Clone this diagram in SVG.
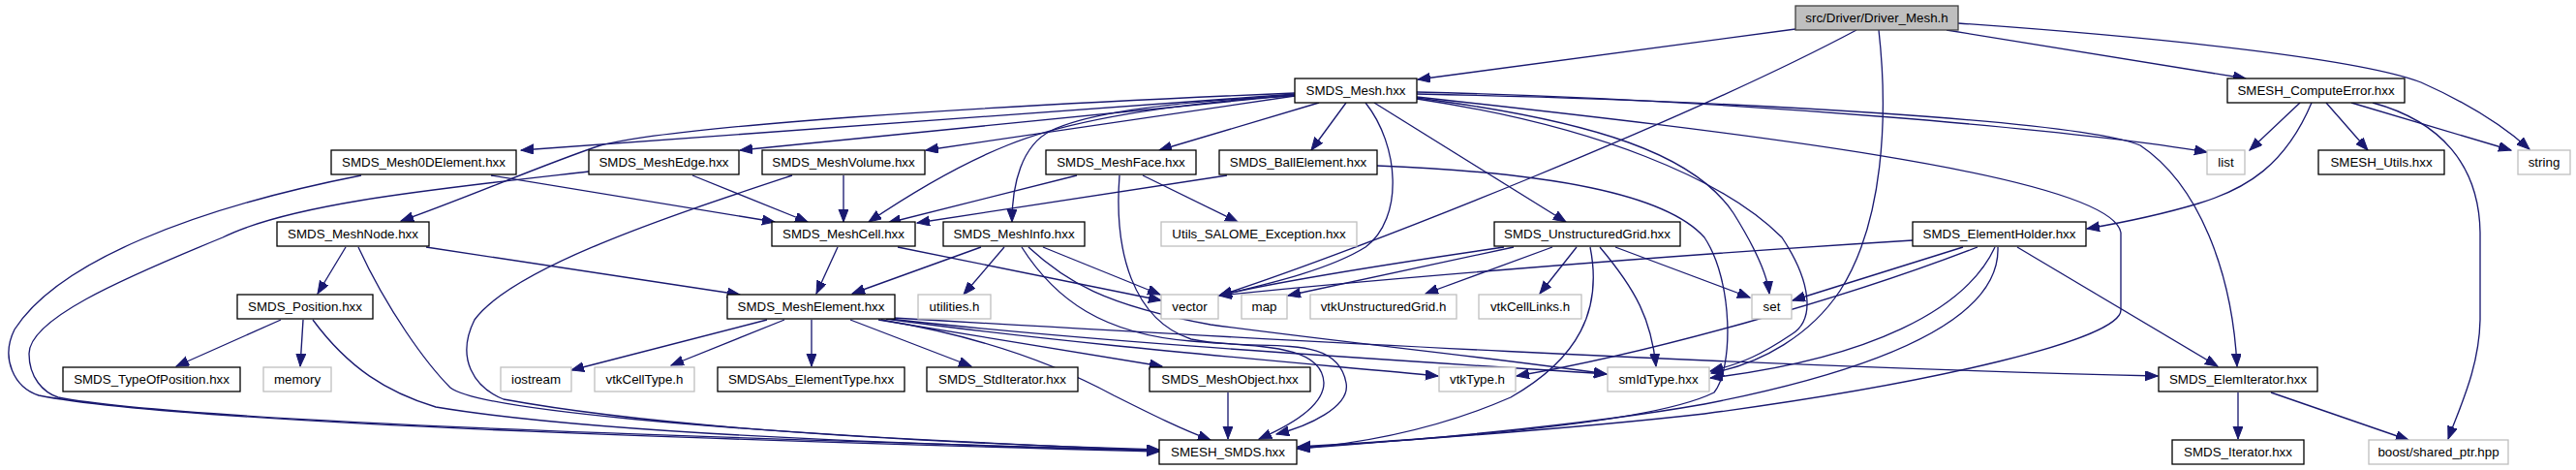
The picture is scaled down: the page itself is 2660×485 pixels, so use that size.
<svg xmlns="http://www.w3.org/2000/svg" width="2660" height="485" viewBox="0 0 2660 485">
<style>
.n rect{fill:#fff;stroke:#000;stroke-width:1.3}
.g rect{fill:#fff;stroke:#bfbfbf;stroke-width:1.3}
.r rect{fill:#bfbfbf;stroke:#404040;stroke-width:1.3}
text{font-family:"Liberation Sans",Arial,sans-serif;font-size:13.33px;fill:#000;text-anchor:middle}
#edges path{fill:none;stroke:#191970;stroke-width:1.33;marker-end:url(#a)}
</style>
<defs>
<marker id="a" markerUnits="userSpaceOnUse" markerWidth="14" markerHeight="11" refX="13" refY="5" orient="auto" viewBox="0 0 14 11">
<path d="M0,0 L13,5 L0,10 Z" fill="#191970" stroke="#191970" stroke-width="1"/>
</marker>
</defs>
<rect width="2660" height="485" fill="#fff"/>
<g id="edges">
<path d="M1854,30 L1464,82"/>
<path d="M2010,31 L2319,81"/>
<path d="M2022,24 C2250,40 2440,62 2500,85 C2545,105 2585,130 2612,154"/>
<path d="M1917,31 C1750,120 1400,260 1259,305"/>
<path d="M1940,31 C1950,120 1945,230 1900,300 C1870,345 1820,375 1767,385"/>
<path d="M1337,96 C1000,110 700,130 620,150 C560,170 480,205 414,228"/>
<path d="M1337,97 L538,155"/>
<path d="M1337,98 L764,155"/>
<path d="M1337,99 L956,155"/>
<path d="M1337,98 C1200,108 1100,125 1040,150 C990,170 940,200 897,229"/>
<path d="M1337,99 C1200,105 1120,118 1085,135 C1055,150 1045,190 1045,229"/>
<path d="M1362,106 L1197,155"/>
<path d="M1390,106 L1354,155"/>
<path d="M1410,106 C1445,150 1450,225 1410,255 C1370,280 1300,295 1259,305"/>
<path d="M1419,106 L1617,229"/>
<path d="M1463,95 C1800,103 2150,135 2279,157"/>
<path d="M1463,97 C1800,104 2150,125 2210,150 C2270,190 2305,280 2310,378"/>
<path d="M1463,100 C1780,135 2180,180 2190,240 L2190,320 C2190,350 2000,395 1760,427 C1600,445 1400,458 1340,462"/>
<path d="M1463,101 C1650,125 1750,160 1790,220 C1815,260 1825,285 1827,303"/>
<path d="M1463,102 C1650,130 1780,185 1840,245 C1870,290 1875,330 1850,345 C1820,365 1800,375 1766,383"/>
<path d="M1422,171 C1600,178 1720,200 1760,245 C1790,290 1790,380 1770,405 C1700,440 1450,455 1340,461"/>
<path d="M2375,106 L2323,155"/>
<path d="M2387,106 C2360,170 2320,195 2270,210 C2230,222 2190,230 2155,236"/>
<path d="M2402,106 L2445,155"/>
<path d="M2428,106 L2593,155"/>
<path d="M2450,106 C2520,125 2560,170 2561,240 L2561,330 C2560,380 2540,420 2528,453"/>
<path d="M507,181 L800,229"/>
<path d="M373,181 C200,215 60,270 15,340 C0,370 15,400 40,408 C200,440 900,458 1197,466"/>
<path d="M715,181 L834,229"/>
<path d="M608,177 C450,195 300,210 230,245 C120,290 30,330 30,365 C30,390 45,405 60,410 C200,438 900,456 1197,465"/>
<path d="M871,181 L871,229"/>
<path d="M818,181 C700,220 530,275 490,330 C470,370 490,400 520,412 C700,445 1000,458 1197,464"/>
<path d="M1112,181 L917,230"/>
<path d="M1180,181 L1278,229"/>
<path d="M1156,181 C1150,260 1170,330 1230,350 C1300,365 1380,340 1390,395 C1395,420 1350,440 1318,448"/>
<path d="M1267,181 L947,230"/>
<path d="M357,255 L328,303"/>
<path d="M440,255 L764,304"/>
<path d="M370,255 C400,320 440,375 465,400 C490,420 700,445 1197,465"/>
<path d="M290,330 L182,378"/>
<path d="M313,330 L310,378"/>
<path d="M323,330 C360,380 400,405 450,420 C600,445 900,458 1197,465"/>
<path d="M865,255 L843,303"/>
<path d="M927,255 L1199,310"/>
<path d="M1013,255 L880,303"/>
<path d="M1037,255 L995,304"/>
<path d="M1077,255 L1198,304"/>
<path d="M1055,255 C1090,310 1140,345 1230,352 C1300,358 1365,355 1367,395 C1367,420 1330,440 1300,453"/>
<path d="M1062,255 C1100,290 1140,315 1250,335 C1400,355 1550,370 1659,386"/>
<path d="M792,330 L590,382"/>
<path d="M810,330 L693,377"/>
<path d="M838,330 L838,378"/>
<path d="M878,330 L1003,378"/>
<path d="M907,330 L1200,378"/>
<path d="M910,330 C1000,345 1080,370 1150,408 C1190,428 1220,443 1250,454"/>
<path d="M915,329 C1100,355 1350,375 1485,388"/>
<path d="M918,329 C1150,355 1450,372 1659,386"/>
<path d="M922,328 C1300,350 1800,378 2228,388"/>
<path d="M1268,405 L1268,453"/>
<path d="M1553,255 C1450,270 1320,290 1259,305"/>
<path d="M1563,255 L1330,305"/>
<path d="M1603,255 L1472,303"/>
<path d="M1628,255 L1590,303"/>
<path d="M1642,255 C1655,320 1630,370 1560,410 C1480,445 1400,458 1340,463"/>
<path d="M1652,255 C1690,300 1705,330 1710,378"/>
<path d="M1668,255 L1807,307"/>
<path d="M1975,248 C1700,265 1400,290 1259,305"/>
<path d="M2027,255 L1851,310"/>
<path d="M2042,255 C1900,310 1700,365 1566,388"/>
<path d="M2060,255 C2030,320 1930,370 1766,390"/>
<path d="M2063,255 C2065,310 2000,370 1760,417 C1600,445 1400,458 1340,463"/>
<path d="M2083,255 L2290,378"/>
<path d="M2311,405 L2311,453"/>
<path d="M2345,405 L2487,454"/>
</g>
<g id="driver_mesh_h" class="r"><rect x="1854" y="6" width="168" height="25"/><text x="1938" y="23">src/Driver/Driver_Mesh.h</text></g>
<g id="smds_mesh" class="n"><rect x="1337" y="81" width="126" height="25"/><text x="1400" y="98">SMDS_Mesh.hxx</text></g>
<g id="smesh_computeerror" class="n"><rect x="2300" y="81" width="183" height="25"/><text x="2391.5" y="98">SMESH_ComputeError.hxx</text></g>
<g id="smds_mesh0delement" class="n"><rect x="342" y="155" width="191" height="25"/><text x="437.5" y="172">SMDS_Mesh0DElement.hxx</text></g>
<g id="smds_meshedge" class="n"><rect x="608" y="155" width="155" height="25"/><text x="685.5" y="172">SMDS_MeshEdge.hxx</text></g>
<g id="smds_meshvolume" class="n"><rect x="787" y="155" width="168" height="25"/><text x="871" y="172">SMDS_MeshVolume.hxx</text></g>
<g id="smds_meshface" class="n"><rect x="1080" y="155" width="155" height="25"/><text x="1157.5" y="172">SMDS_MeshFace.hxx</text></g>
<g id="smds_ballelement" class="n"><rect x="1259" y="155" width="163" height="25"/><text x="1340.5" y="172">SMDS_BallElement.hxx</text></g>
<g id="list" class="g"><rect x="2279" y="155" width="39" height="25"/><text x="2298.5" y="172">list</text></g>
<g id="smesh_utils" class="n"><rect x="2394" y="155" width="130" height="25"/><text x="2459" y="172">SMESH_Utils.hxx</text></g>
<g id="string" class="g"><rect x="2600" y="155" width="54" height="25"/><text x="2627" y="172">string</text></g>
<g id="smds_meshnode" class="n"><rect x="286" y="229" width="157" height="25"/><text x="364.5" y="246">SMDS_MeshNode.hxx</text></g>
<g id="smds_meshcell" class="n"><rect x="797" y="229" width="148" height="25"/><text x="871" y="246">SMDS_MeshCell.hxx</text></g>
<g id="smds_meshinfo" class="n"><rect x="974" y="229" width="146" height="25"/><text x="1047" y="246">SMDS_MeshInfo.hxx</text></g>
<g id="utils_salome_exception" class="g"><rect x="1199" y="229" width="202" height="25"/><text x="1300" y="246">Utils_SALOME_Exception.hxx</text></g>
<g id="smds_unstructuredgrid" class="n"><rect x="1543" y="229" width="192" height="25"/><text x="1639" y="246">SMDS_UnstructuredGrid.hxx</text></g>
<g id="smds_elementholder" class="n"><rect x="1975" y="229" width="179" height="25"/><text x="2064.5" y="246">SMDS_ElementHolder.hxx</text></g>
<g id="smds_position" class="n"><rect x="245" y="304" width="140" height="25"/><text x="315" y="321">SMDS_Position.hxx</text></g>
<g id="smds_meshelement" class="n"><rect x="751" y="304" width="173" height="25"/><text x="837.5" y="321">SMDS_MeshElement.hxx</text></g>
<g id="utilities_h" class="g"><rect x="948" y="304" width="75" height="25"/><text x="985.5" y="321">utilities.h</text></g>
<g id="vector" class="g"><rect x="1199" y="304" width="59" height="25"/><text x="1228.5" y="321">vector</text></g>
<g id="map" class="g"><rect x="1282" y="304" width="47" height="25"/><text x="1305.5" y="321">map</text></g>
<g id="vtkunstructuredgrid_h" class="g"><rect x="1353" y="304" width="151" height="25"/><text x="1428.5" y="321">vtkUnstructuredGrid.h</text></g>
<g id="vtkcelllinks_h" class="g"><rect x="1527" y="304" width="106" height="25"/><text x="1580" y="321">vtkCellLinks.h</text></g>
<g id="set" class="g"><rect x="1809" y="304" width="41" height="25"/><text x="1829.5" y="321">set</text></g>
<g id="smds_typeofposition" class="n"><rect x="65" y="379" width="183" height="25"/><text x="156.5" y="396">SMDS_TypeOfPosition.hxx</text></g>
<g id="memory" class="g"><rect x="272" y="379" width="70" height="25"/><text x="307" y="396">memory</text></g>
<g id="iostream" class="g"><rect x="517" y="379" width="73" height="25"/><text x="553.5" y="396">iostream</text></g>
<g id="vtkcelltype_h" class="g"><rect x="614" y="379" width="103" height="25"/><text x="665.5" y="396">vtkCellType.h</text></g>
<g id="smdsabs_elementtype" class="n"><rect x="741" y="379" width="193" height="25"/><text x="837.5" y="396">SMDSAbs_ElementType.hxx</text></g>
<g id="smds_stditerator" class="n"><rect x="957" y="379" width="156" height="25"/><text x="1035" y="396">SMDS_StdIterator.hxx</text></g>
<g id="smds_meshobject" class="n"><rect x="1187" y="379" width="166" height="25"/><text x="1270" y="396">SMDS_MeshObject.hxx</text></g>
<g id="vtktype_h" class="g"><rect x="1486" y="379" width="79" height="25"/><text x="1525.5" y="396">vtkType.h</text></g>
<g id="smidtype" class="g"><rect x="1660" y="379" width="105" height="25"/><text x="1712.5" y="396">smIdType.hxx</text></g>
<g id="smds_elemiterator" class="n"><rect x="2229" y="379" width="164" height="25"/><text x="2311" y="396">SMDS_ElemIterator.hxx</text></g>
<g id="smesh_smds" class="n"><rect x="1197" y="454" width="142" height="25"/><text x="1268" y="471">SMESH_SMDS.hxx</text></g>
<g id="smds_iterator" class="n"><rect x="2243" y="454" width="136" height="25"/><text x="2311" y="471">SMDS_Iterator.hxx</text></g>
<g id="boost_shared_ptr" class="g"><rect x="2446" y="454" width="144" height="25"/><text x="2518" y="471">boost/shared_ptr.hpp</text></g>
</svg>
